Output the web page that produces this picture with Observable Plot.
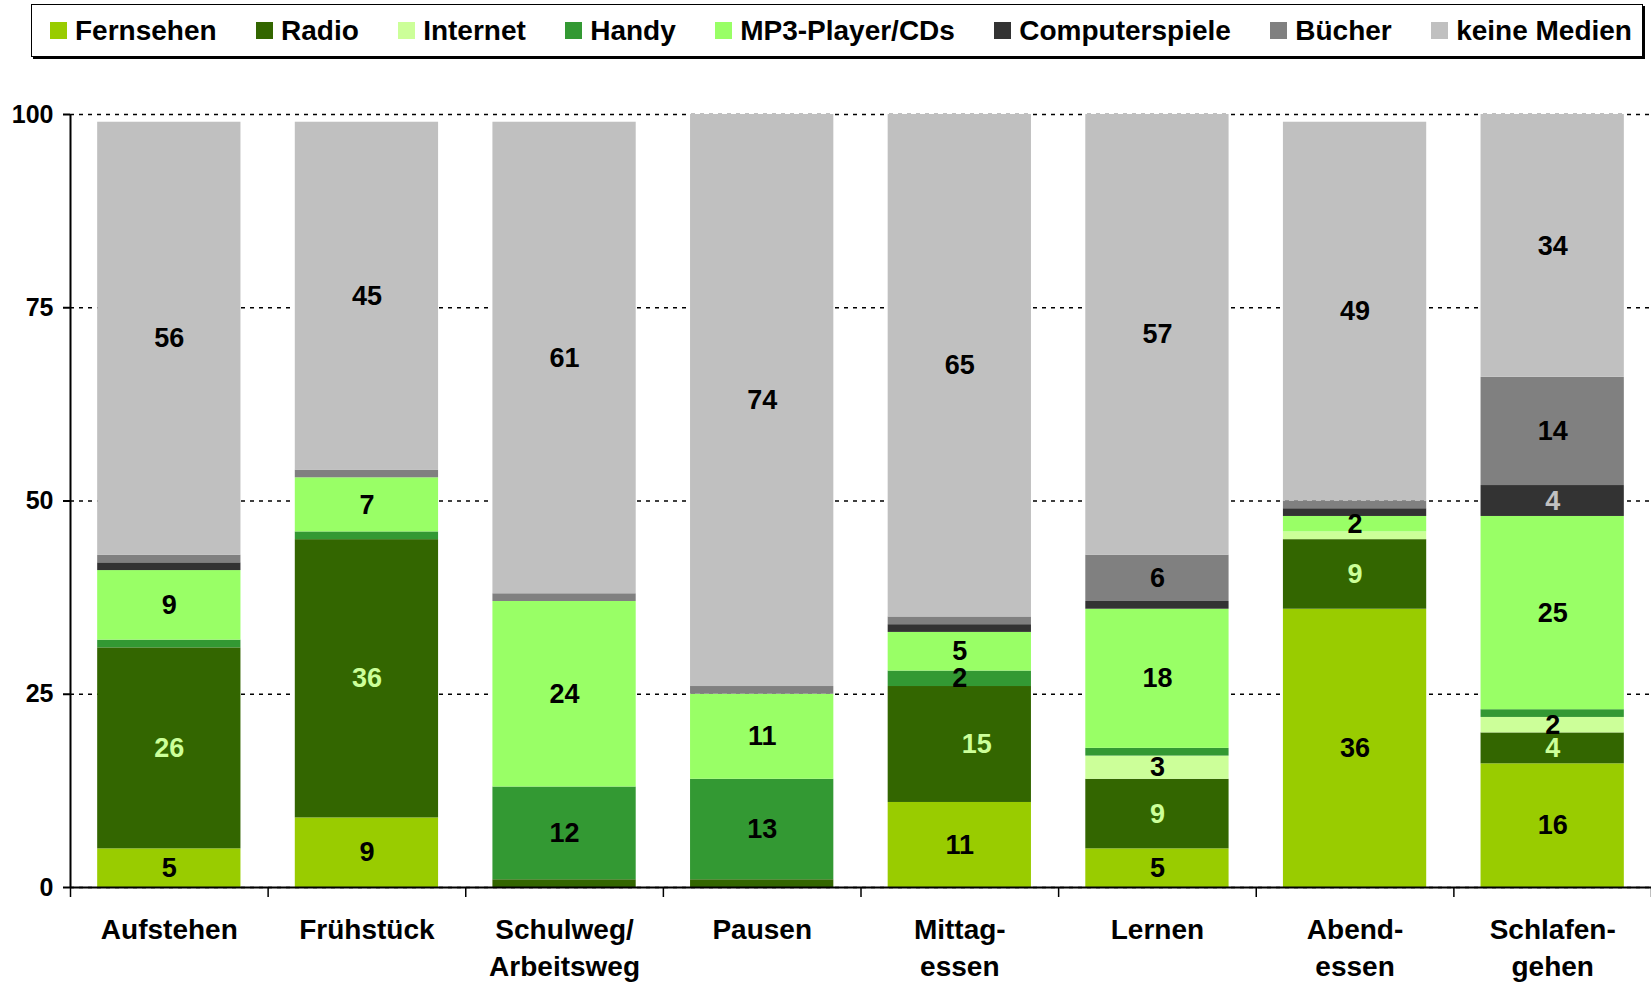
<!DOCTYPE html>
<html>
<head>
<meta charset="utf-8">
<script src="https://cdn.jsdelivr.net/npm/d3@7"></script>
<script src="https://cdn.jsdelivr.net/npm/@observablehq/plot@0.6"></script>
<style>
  body { margin: 0; background: #fff; overflow: hidden; }
  #wrap { position: relative; width: 1651px; height: 985px; font-family: "Liberation Sans", Arial, sans-serif; }
  #legend {
    position: absolute; left: 31px; top: 4px; width: 1612px; height: 53px;
    box-sizing: border-box; border: 1.5px solid #000; box-shadow: 2px 2px 0 #000;
    background: #fff; display: flex; align-items: center; justify-content: space-between;
    padding: 0 10px 0 18px; font-weight: bold; font-size: 28px; color: #000; z-index: 2;
  }
  .item { display: flex; align-items: center; white-space: nowrap; }
  .sw { width: 17px; height: 17px; margin-right: 8px; display: inline-block; }
</style>
</head>
<body>
<div id="wrap">
  <div id="legend"></div>
  <div id="chart"></div>
</div>
<script>
// ---- Data ----
const categories = ["Aufstehen", "Frühstück", "Schulweg/Arbeitsweg", "Pausen", "Mittagessen", "Lernen", "Abendessen", "Schlafengehen"];
const tickLabels = ["Aufstehen", "Frühstück", "Schulweg/\nArbeitsweg", "Pausen", "Mittag-\nessen", "Lernen", "Abend-\nessen", "Schlafen-\ngehen"];
const seriesNames = ["Fernsehen", "Radio", "Internet", "Handy", "MP3-Player/CDs", "Computerspiele", "Bücher", "keine Medien"];
const seriesColors = ["#99cc00", "#336600", "#ccff99", "#339933", "#99ff66", "#333333", "#808080", "#c0c0c0"];

const fernsehen      = [5, 9, 0, 0, 11, 5, 36, 16];
const radio          = [26, 36, 1, 1, 15, 9, 9, 4];
const internet       = [0, 0, 0, 0, 0, 3, 1, 2];
const handy          = [1, 1, 12, 13, 2, 1, 0, 1];
const mp3            = [9, 7, 24, 11, 5, 18, 2, 25];
const computerspiele = [1, 0, 0, 0, 1, 1, 1, 4];
const buecher        = [1, 1, 1, 1, 1, 6, 1, 14];
const keineMedien    = [56, 45, 61, 74, 65, 57, 49, 34];
const yTicks = [0, 25, 50, 75, 100];

const seriesValues = [fernsehen, radio, internet, handy, mp3, computerspiele, buecher, keineMedien];

const rows = [];
seriesNames.forEach((s, si) => {
  seriesValues[si].forEach((v, ci) => rows.push({category: categories[ci], series: s, value: v}));
});

// ---- Legend ----
const legend = document.getElementById("legend");
seriesNames.forEach((s, i) => {
  const it = document.createElement("span");
  it.className = "item";
  it.innerHTML = `<span class="sw" style="background:${seriesColors[i]}"></span>${s}`;
  legend.appendChild(it);
});

// ---- Chart ----
const W = 1651, H = 985, mL = 70, mR = 0, mT = 114, mB = 98;
const step = (W - mL - mR) / categories.length;
const minLabel = 2;
const isOffset = d => d.series === "Radio" && d.category === "Mittagessen";
const labelStyle = {fontSize: 27, fontWeight: "bold"};

const chart = Plot.plot({
  width: W, height: H,
  marginLeft: mL, marginRight: mR, marginTop: mT, marginBottom: mB,
  style: {fontFamily: "Liberation Sans, Arial, sans-serif", background: "#fff", color: "#000"},
  x: {domain: categories, paddingInner: 0.275, paddingOuter: 0.1375, round: false, label: null},
  y: {domain: [0, 100], label: null},
  color: {domain: seriesNames, range: seriesColors},
  marks: [
    Plot.gridY(yTicks, {stroke: "#000", strokeOpacity: 1, strokeWidth: 1.5, strokeDasharray: "4,5"}),
    Plot.barY(rows, {x: "category", y: "value", fill: "series"}),
    // labels: black
    Plot.text(rows, Plot.stackY({x: "category", y: "value", z: "series",
      text: d => (d.value >= minLabel && d.series !== "Radio" && d.series !== "Computerspiele") ? String(d.value) : "",
      fill: "#000", ...labelStyle})),
    // labels: Radio (light green)
    Plot.text(rows, Plot.stackY({x: "category", y: "value", z: "series",
      text: d => (d.value >= minLabel && d.series === "Radio" && !isOffset(d)) ? String(d.value) : "",
      fill: "#ccff99", ...labelStyle})),
    Plot.text(rows, Plot.stackY({x: "category", y: "value", z: "series",
      text: d => (d.value >= minLabel && isOffset(d)) ? String(d.value) : "",
      fill: "#ccff99", dx: 17, ...labelStyle})),
    // labels: Computerspiele (light grey)
    Plot.text(rows, Plot.stackY({x: "category", y: "value", z: "series",
      text: d => (d.value >= minLabel && d.series === "Computerspiele") ? String(d.value) : "",
      fill: "#c0c0c0", ...labelStyle})),
    // axes
    Plot.ruleY([0], {stroke: "#000", strokeWidth: 2}),
    Plot.ruleX([categories[0]], {x: d => d, dx: -step / 2, y1: 0, y2: 100, stroke: "#000", strokeWidth: 2}),
    Plot.ruleX(categories, {x: d => d, dx: -step / 2, y1: 0, y2: 0, insetBottom: -10, stroke: "#000", strokeWidth: 1.5}),
    Plot.ruleX([categories[categories.length - 1]], {x: d => d, dx: step / 2, y1: 0, y2: 0, insetBottom: -10, stroke: "#000", strokeWidth: 1.5}),
    Plot.axisY(yTicks, {anchor: "left", tickSize: 7, tickPadding: 10, fontSize: 25, fontWeight: "bold", stroke: "#000", strokeWidth: 2, label: null}),
    Plot.axisX({tickSize: 0, tickPadding: 25, fontSize: 28, fontWeight: "bold", lineHeight: 1.32,
      tickFormat: c => tickLabels[categories.indexOf(c)], label: null})
  ]
});
document.getElementById("chart").appendChild(chart);
</script>
</body>
</html>
